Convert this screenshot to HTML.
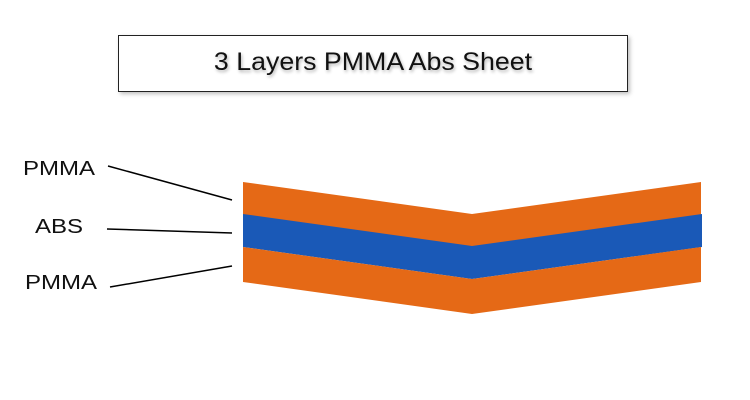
<!DOCTYPE html>
<html><head><style>
body{margin:0;width:750px;height:400px;background:#fff;overflow:hidden;font-family:"Liberation Sans",sans-serif;}
.box{position:absolute;left:118px;top:35px;width:508px;height:55px;border:1px solid #222;box-shadow:2px 2px 4px rgba(0,0,0,0.25);background:#fff;}
.t{position:absolute;left:118px;top:35px;width:510px;height:57px;line-height:55px;text-align:center;font-size:25px;color:#111;text-shadow:1px 2px 3px rgba(0,0,0,0.3);transform:scaleX(1.07);}
.l{position:absolute;font-size:20px;color:#111;transform:scaleX(1.2);transform-origin:left top;}
</style></head><body>
<div class="box"></div>
<div class="t">3 Layers PMMA Abs Sheet</div>
<div class="l" style="left:23px;top:158px">PMMA</div>
<div class="l" style="left:35px;top:216px">ABS</div>
<div class="l" style="left:25px;top:272px">PMMA</div>
<svg width="750" height="400" style="position:absolute;left:0;top:0">
<polygon points="243,182 472,214 701,182 701,215 472,247 243,215" fill="#e56916"/>
<polygon points="243,214 472,246 702,214 702,247 472,279 243,247" fill="#1a59b7"/>
<polygon points="243,247 472,279 701,247 701,282 472,314 243,282" fill="#e56916"/>
<line x1="108" y1="166" x2="232" y2="200" stroke="#000" stroke-width="1.5"/>
<line x1="107" y1="229" x2="232" y2="233" stroke="#000" stroke-width="1.5"/>
<line x1="110" y1="287" x2="232" y2="266" stroke="#000" stroke-width="1.5"/>
</svg>
</body></html>
